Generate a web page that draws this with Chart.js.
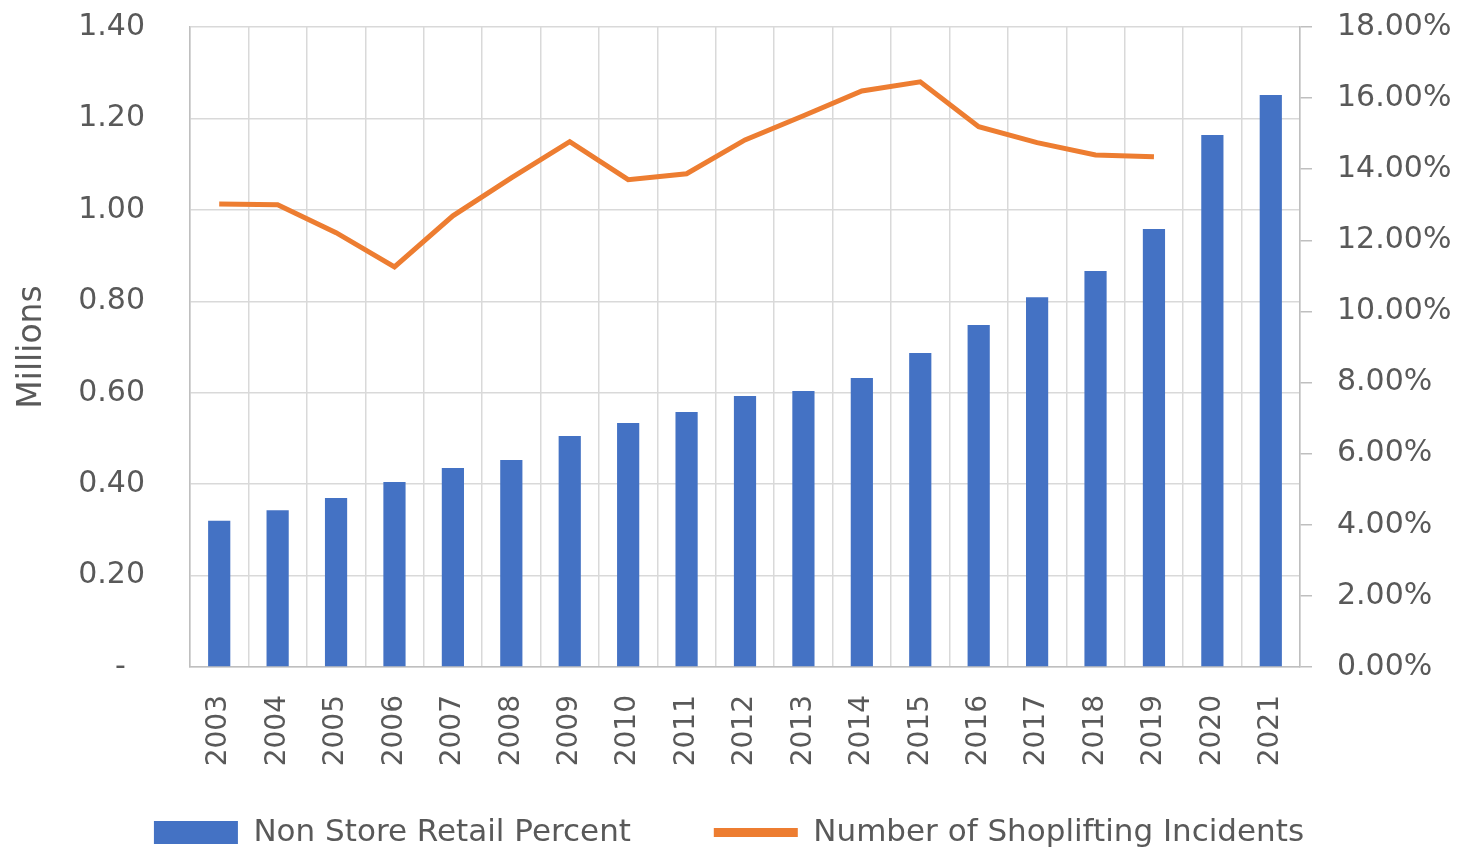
<!DOCTYPE html>
<html>
<head>
<meta charset="utf-8">
<script src="https://cdn.jsdelivr.net/npm/chart.js@4.4.1/dist/chart.umd.min.js"></script>
<style>
  html, body { margin: 0; padding: 0; background: #fff; overflow: hidden; }
  #wrap { width: 1458px; height: 851px; overflow: hidden; }
</style>
</head>
<body>
<div id="wrap"><canvas id="chart" width="1458" height="858"></canvas></div>
<script>
// Chart data
const years = ["2003", "2004", "2005", "2006", "2007", "2008", "2009", "2010", "2011", "2012",
  "2013", "2014", "2015", "2016", "2017", "2018", "2019", "2020", "2021"];

// Non store retail share, percent (right axis)
const nonStorePercent = [4.11, 4.41, 4.75, 5.20, 5.60, 5.82, 6.50, 6.86, 7.17, 7.62,
  7.76, 8.13, 8.83, 9.62, 10.40, 11.14, 12.32, 14.96, 16.09];

// Shoplifting incidents, millions (left axis)
const shopliftingMillions = [1.013, 1.011, 0.950, 0.875, 0.987, 1.070, 1.149, 1.066, 1.079, 1.153,
  1.206, 1.260, 1.280, 1.182, 1.147, 1.120, 1.116, null, null];

const leftTicks = [0, 0.2, 0.4, 0.6, 0.8, 1.0, 1.2, 1.4];
const rightTicks = [0, 2, 4, 6, 8, 10, 12, 14, 16, 18];

const FONT = "'DejaVu Sans', Calibri, sans-serif";
const TEXT = "#595959";
const GRID = "#d9d9d9";
const AXIS = "#bfbfbf";

const ctx = document.getElementById("chart").getContext("2d");

new Chart(ctx, {
  type: "bar",
  data: {
    labels: years,
    datasets: [
      {
        label: "Non Store Retail Percent",
        data: nonStorePercent,
        yAxisID: "yRight",
        backgroundColor: "#4472C4",
        borderWidth: 0,
        categoryPercentage: 1,
        barPercentage: 0.38,
        order: 2,
      },
      {
        type: "line",
        label: "Number of Shoplifting Incidents",
        data: shopliftingMillions,
        yAxisID: "yLeft",
        borderColor: "#ED7D31",
        backgroundColor: "#ED7D31",
        borderWidth: 5,
        pointRadius: 0,
        tension: 0,
        spanGaps: false,
        order: 1,
      },
    ],
  },
  options: {
    responsive: false,
    animation: false,
    devicePixelRatio: 1,
    layout: { padding: { top: 27, left: 0, right: 0, bottom: 0 } },
    scales: {
      x: {
        offset: true,
        grid: { offset: true, color: GRID, lineWidth: 1.5, drawTicks: false },
        border: { color: AXIS, width: 1.5 },
        ticks: {
          color: TEXT,
          font: { family: FONT, size: 28 },
          minRotation: 90,
          maxRotation: 90,
          padding: 28,
          autoSkip: false,
        },
        afterFit: (scale) => { scale.height = 146; },
      },
      yLeft: {
        position: "left",
        min: 0,
        max: 1.4,
        afterBuildTicks: (scale) => { scale.ticks = leftTicks.map((v) => ({ value: v })); },
        grid: { color: GRID, lineWidth: 1.5, drawTicks: false },
        border: { color: AXIS, width: 1.5 },
        ticks: {
          color: TEXT,
          font: { family: FONT, size: 30 },
          padding: 45,
          callback: (v) => (v === 0 ? "-  " : v.toFixed(2)),
        },
        title: {
          display: true,
          text: "Millions",
          color: TEXT,
          font: { family: FONT, size: 33 },
          padding: { top: 13, bottom: 0 },
        },
        afterFit: (scale) => {
          scale.width = 190;
          scale.paddingTop = 0;
          scale.paddingBottom = 0;
        },
      },
      yRight: {
        position: "right",
        min: 0,
        max: 18,
        afterBuildTicks: (scale) => { scale.ticks = rightTicks.map((v) => ({ value: v })); },
        grid: { drawOnChartArea: false, color: AXIS, lineWidth: 1.5, tickLength: 12 },
        border: { color: AXIS, width: 1.5 },
        ticks: {
          color: TEXT,
          font: { family: FONT, size: 30 },
          padding: 25,
          callback: (v) => v.toFixed(2) + "%",
        },
        afterFit: (scale) => {
          scale.width = 158;
          scale.paddingTop = 0;
          scale.paddingBottom = 0;
        },
      },
    },
    plugins: {
      legend: {
        position: "bottom",
        labels: {
          color: TEXT,
          font: { family: FONT, size: 31 },
          usePointStyle: true,
          pointStyleWidth: 84,
          boxHeight: 23,
          padding: 4,
          sort: (a, b) => a.datasetIndex - b.datasetIndex,
          generateLabels: (chart) => {
            const items = Chart.defaults.plugins.legend.labels.generateLabels(chart);
            return items.map((item) => {
              const ds = chart.data.datasets[item.datasetIndex];
              const isLine = ds.type === "line";
              item.pointStyle = isLine ? "line" : "rect";
              item.lineWidth = isLine ? 9 : 0;
              // gap after the first entry, as in the original legend
              if (!isLine) item.text = ds.label + "        ";
              return item;
            });
          },
        },
      },
      tooltip: { enabled: false },
    },
  },
});
</script>
</body>
</html>
